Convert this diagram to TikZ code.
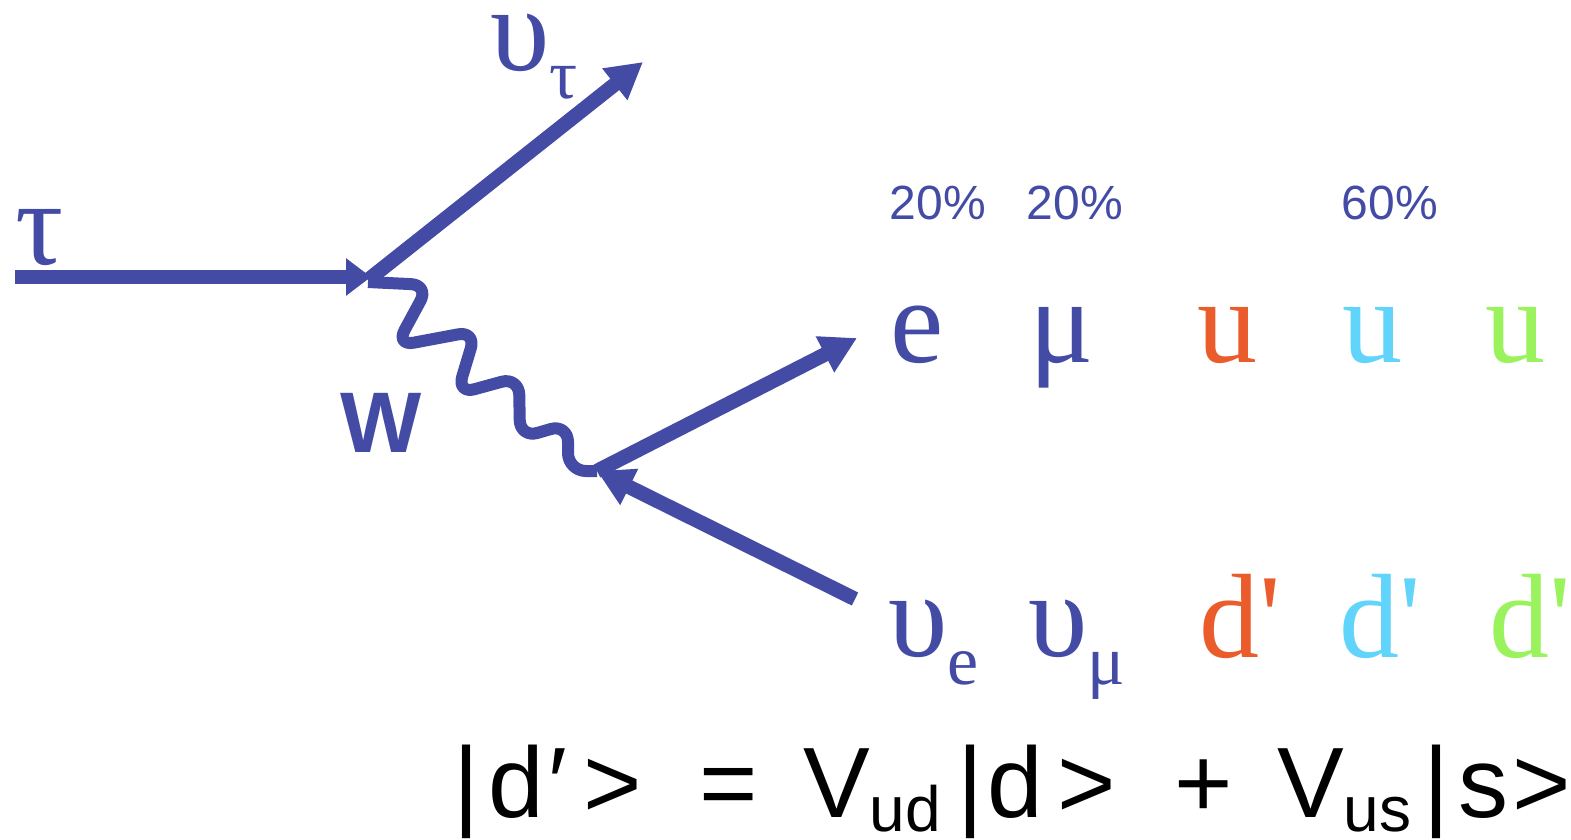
\documentclass[tikz,border=0pt]{standalone}
\usepackage{fontspec}
\setmainfont{Liberation Serif}
\newfontfamily\tms{Liberation Serif}
\newfontfamily\arl{Liberation Sans}
\usetikzlibrary{arrows.meta}
\definecolor{pblue}{RGB}{67,75,165}
\definecolor{qorange}{RGB}{235,92,44}
\definecolor{qcyan}{RGB}{96,212,250}
\definecolor{qgreen}{RGB}{154,242,92}
\tikzset{
  fline/.style={pblue, line width=14.5pt},
  farrow/.style={-{Triangle[length=36pt,width=38pt]}},
  big/.style={font=\tms\fontsize{120}{120}\selectfont, inner sep=0pt, anchor=base},
  bigw/.style={big, anchor=base west},
  pct/.style={font=\arl\fontsize{48}{48}\selectfont, text=pblue, inner sep=0pt, anchor=base},
  eqn/.style={font=\arl\fontsize{100}{100}\selectfont, text=black, inner sep=0pt, anchor=base west},
}
\newcommand{\subsz}[1]{\raisebox{-28pt}{\fontsize{70}{70}\selectfont #1}}
\newcommand{\eqsub}[1]{\raisebox{-14pt}{\fontsize{64}{64}\selectfont #1}}
\begin{document}
\begin{tikzpicture}[x=1pt,y=-1pt]
\useasboundingbox (0,0) rectangle (1571,839);
\coordinate (v1) at (371,277);
\coordinate (v2) at (597,471);
\coordinate (tauS) at (15,277);
\coordinate (nutauE) at (643,62);
\coordinate (eE) at (857,338);
\coordinate (nueS) at (855,599);
% fermion lines
\draw[fline, -{Triangle[length=25pt,width=36pt]}] (tauS) -- (v1);
\draw[fline, farrow] (368,280) -- (nutauE);
\draw[fline, farrow] (v2) -- (eE);
\draw[fline, farrow] (nueS) -- (v2);
% W wiggle
\draw[pblue, line width=12pt, rounded corners=18pt, line join=round]
  (368,282) -- (429,285) -- (396,346) -- (476,331) -- (457,394) -- (519,377)
  -- (520,438) -- (568,424) -- (568,471) -- (v2);
% labels
\node[big, text=pblue] (tau) at (40,264) {τ};
\node[bigw, text=pblue] (nutau) at (490,70) {υ\subsz{τ}};
\node[font=\arl\bfseries\fontsize{86}{86}\selectfont, text=pblue, inner sep=0pt, anchor=base] (W) at (381,452) {W};
% percentages
\node[pct] (p1) at (938,219) {20\%};
\node[pct] (p2) at (1075,219) {20\%};
\node[pct] (p3) at (1390,219) {60\%};
% upper row
\node[big, text=pblue] (e) at (917,362) {e};
\node[big, text=pblue] (mu) at (1062,362) {μ};
\node[big, text=qorange] (u1) at (1227,362) {u};
\node[big, text=qcyan] (u2) at (1372,362) {u};
\node[big, text=qgreen] (u3) at (1515,362) {u};
% lower row
\node[bigw, text=pblue] (nue) at (888,656) {υ\subsz{e}};
\node[bigw, text=pblue] (numu) at (1028,656) {υ\subsz{μ}};
\node[big, text=qorange] (d1) at (1240,657) {d'};
\node[big, text=qcyan] (d2) at (1380,657) {d'};
\node[big, text=qgreen] (d3) at (1530,657) {d'};
% equation
\node[eqn] (eq1) at (453,817) {|\hspace{9pt}d\hspace{5pt}′\hspace{16pt}>};
\node[eqn] (eq2) at (699,817) {=};
\node[eqn] (eq3) at (803,817) {V\eqsub{ud}\hspace{16pt}|\hspace{5pt}d\hspace{14pt}>};
\node[eqn] (eq4) at (1174,817) {+};
\node[eqn] (eq5) at (1277,817) {V\eqsub{us}\hspace{12pt}|\hspace{9pt}s\hspace{4pt}>};
\end{tikzpicture}
\end{document}
